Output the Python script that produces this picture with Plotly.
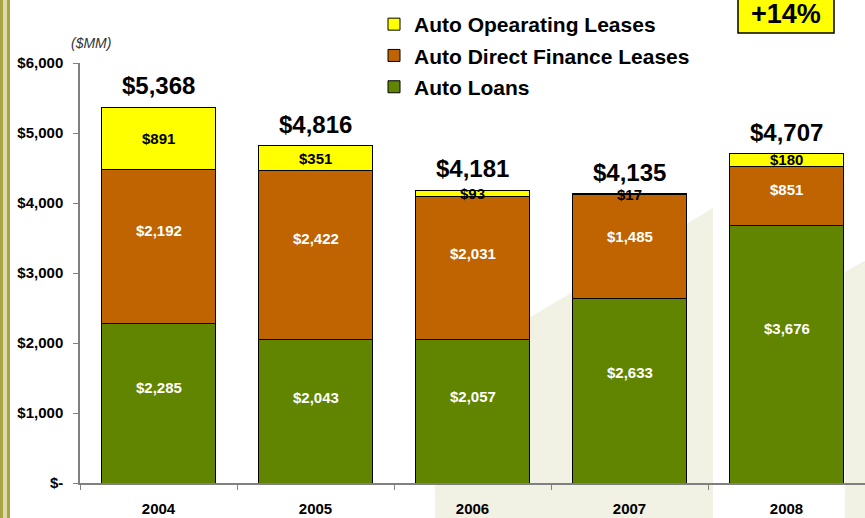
import plotly.graph_objects as go

years = ["2004", "2005", "2006", "2007", "2008"]
auto_loans = [2285, 2043, 2057, 2633, 3676]
direct_finance = [2192, 2422, 2031, 1485, 851]
operating_leases = [891, 351, 93, 17, 180]
totals = [5368, 4816, 4181, 4135, 4707]

y_ticks = [0, 1000, 2000, 3000, 4000, 5000, 6000]
y_ticklabels = ["$-", "$1,000", "$2,000", "$3,000", "$4,000", "$5,000", "$6,000"]

GREEN = "#618500"
ORANGE = "#BF6400"
YELLOW = "#FFFF00"
FONT = "Arial, Liberation Sans, sans-serif"

W, H = 865, 518
L, R, T, B = 80, 0, 63, 35


# pixel -> paper helpers, for decorations only
def px(x):
    return (x - L) / (W - L - R)


def py(y):
    return (H - B - y) / (H - T - B)


fig = go.Figure()
series = [
    ("Auto Loans", auto_loans, GREEN, 3),
    ("Auto Direct Finance Leases", direct_finance, ORANGE, 2),
    ("Auto Opearating Leases", operating_leases, YELLOW, 1),
]
for name, vals, col, rank in series:
    fig.add_trace(go.Bar(
        x=years, y=vals, name=name, legendgroup=name, legendrank=rank,
        marker=dict(color=col, line=dict(color="black", width=1)),
        hoverinfo="y+name",
    ))

# labels inside segments (x given as category index)
base = [0] * len(years)
for name, vals, col, rank in series:
    frac = 0.5 if col == YELLOW else 0.6
    txtcol = "black" if col == YELLOW else "white"
    for i, v in enumerate(vals):
        fig.add_annotation(
            x=i, y=base[i] + v * frac, text="$" + format(v, ","),
            showarrow=False,
            font=dict(family=FONT, size=15, color=txtcol, weight="bold"),
        )
        base[i] += v

# totals above the bars
for i, t in enumerate(totals):
    fig.add_annotation(
        x=i, y=t, text="$" + format(t, ","), showarrow=False,
        yanchor="bottom", yshift=6,
        font=dict(family=FONT, size=24, color="black", weight="bold"),
    )

fig.add_annotation(
    xref="paper", yref="paper", x=px(91), y=py(43), text="<i>($MM)</i>",
    xanchor="center", yanchor="middle",
    showarrow=False, font=dict(family=FONT, size=14, color="#333333"),
)

# +14% callout
fig.add_shape(type="rect", xref="paper", yref="paper",
              x0=px(738), x1=px(834), y0=py(33), y1=py(-5),
              fillcolor=YELLOW, line=dict(color="black", width=1.5))
fig.add_annotation(
    xref="paper", yref="paper", x=px(786), y=py(14), text="+14%",
    xanchor="center", yanchor="middle",
    showarrow=False, font=dict(family=FONT, size=27, color="black", weight="bold"),
)

# faint watermark in the background
wm = "#F1F1E4"
for pts in [
    [(435, 518), (435, 374), (713, 208), (713, 518)],
    [(845, 518), (845, 272), (870, 258), (870, 518)],
]:
    path = "M " + " L ".join("%f,%f" % (px(a), py(b)) for a, b in pts) + " Z"
    fig.add_shape(type="path", xref="paper", yref="paper", path=path,
                  fillcolor=wm, line=dict(width=0), layer="below")

# gold stripe at left edge
for x0, x1, col in [(0, 3, "#A9A345"), (3, 7, "#DCDAA8"), (7, 10, "#A9A345")]:
    fig.add_shape(type="rect", xref="paper", yref="paper",
                  x0=px(x0), x1=px(x1), y0=py(H + 5), y1=py(-5),
                  fillcolor=col, line=dict(width=0), layer="below")

fig.update_layout(
    width=W, height=H,
    margin=dict(l=L, r=R, t=T, b=B, autoexpand=False),
    barmode="stack", bargap=0.28,
    paper_bgcolor="white", plot_bgcolor="rgba(0,0,0,0)",
    font=dict(family=FONT, color="black"),
    legend=dict(
        x=px(374), y=py(4), xanchor="left", yanchor="top",
        traceorder="grouped", tracegroupgap=1,
        font=dict(family=FONT, size=21, color="black", weight="bold"),
        bgcolor="rgba(0,0,0,0)",
    ),
    showlegend=True,
)
fig.update_xaxes(
    type="category", range=[-0.5, len(years) - 0.5],
    showline=True, linecolor="#808080", linewidth=1.5,
    ticks="outside", tickson="boundaries", ticklen=5, tickcolor="#808080",
    tickfont=dict(family=FONT, size=15, color="black", weight="bold"),
    ticklabelstandoff=11,
)
fig.update_yaxes(
    range=[0, 6000], tickvals=y_ticks, ticktext=y_ticklabels,
    showgrid=False, zeroline=False,
    showline=True, linecolor="#808080", linewidth=1.5,
    ticks="outside", ticklen=5, tickcolor="#808080",
    tickfont=dict(family=FONT, size=15, color="black", weight="bold"),
    ticklabelstandoff=7,
)

# page body has a default margin; drop it so the chart sits at the window corner
fig.write_html("out.html", config={"displayModeBar": False},
               post_script="document.body.style.margin='0';")
